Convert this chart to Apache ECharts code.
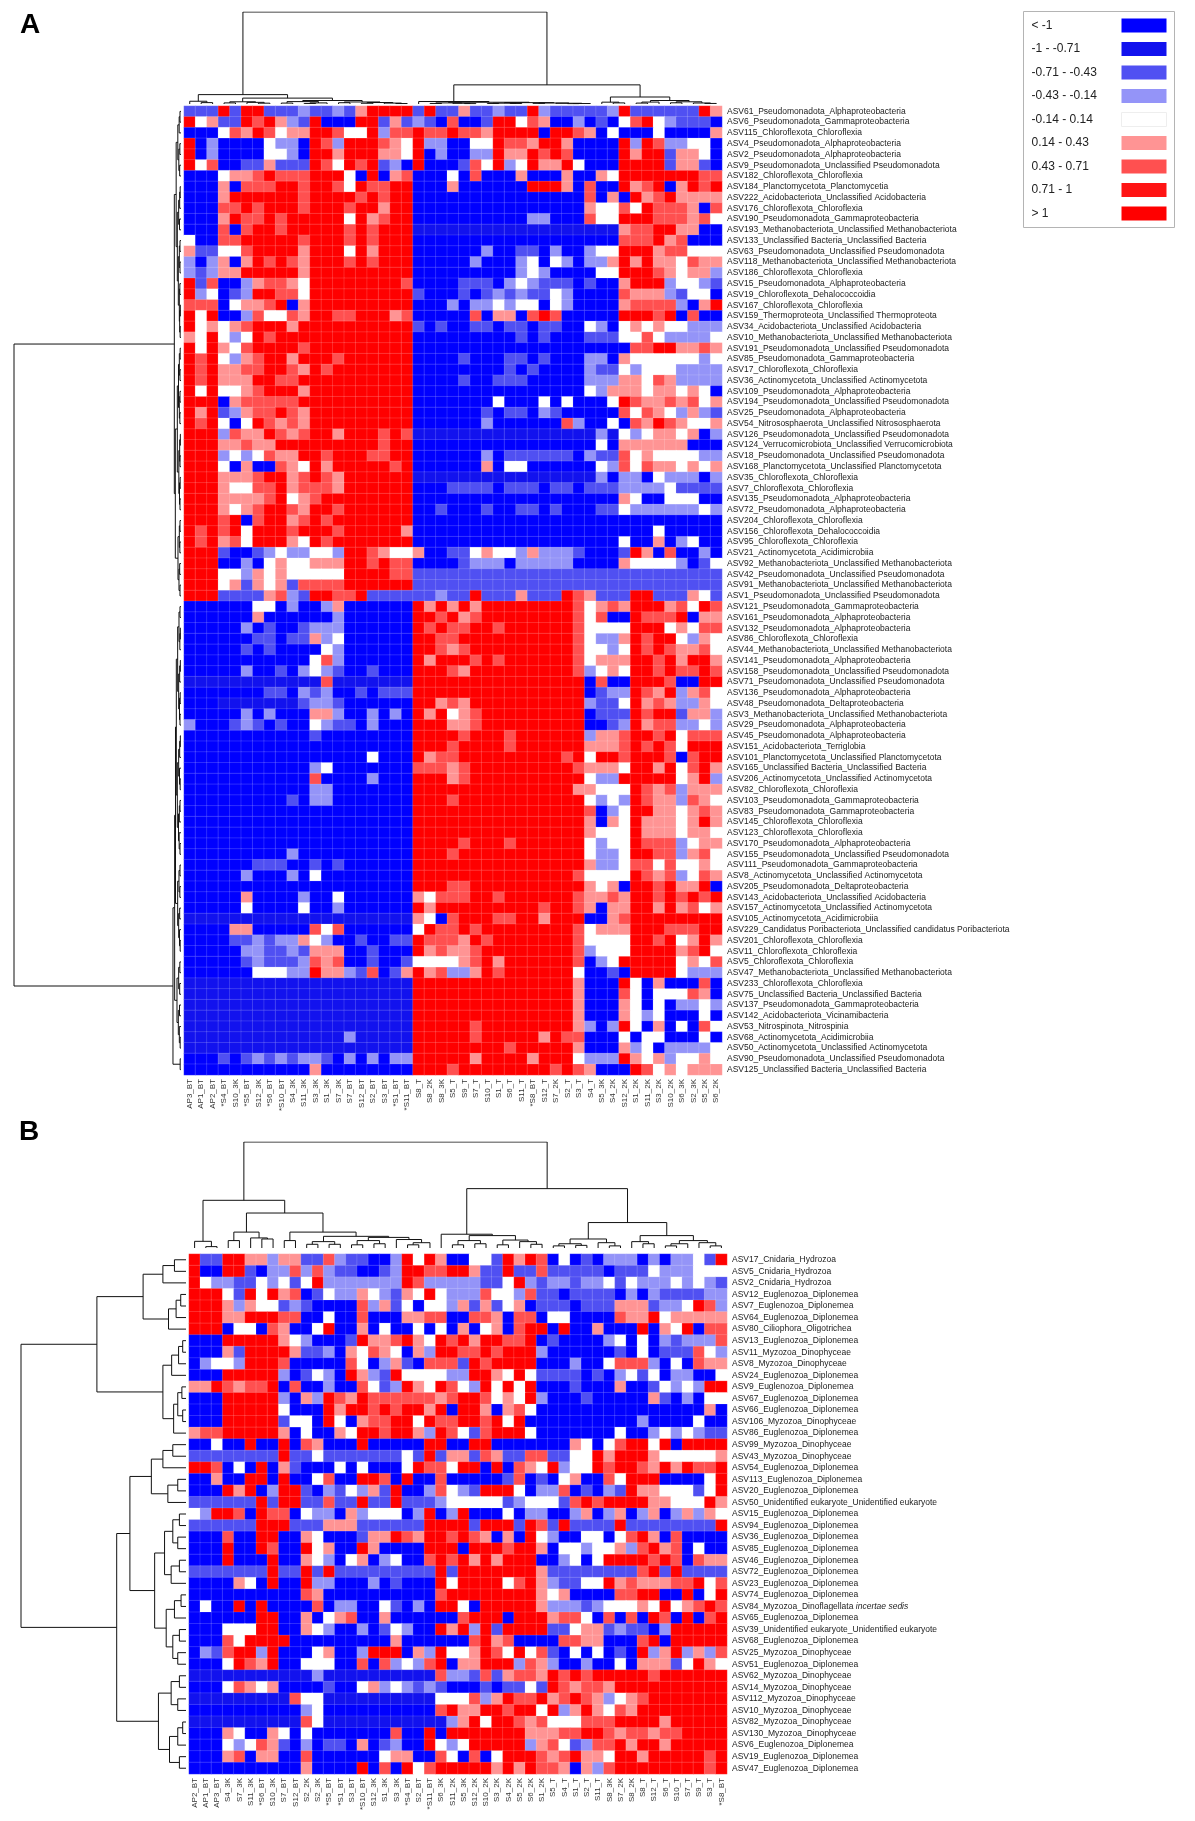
<!DOCTYPE html>
<html>
<head>
<meta charset="utf-8">
<title>Clustered heatmaps</title>
<style>
html, body {margin:0; padding:0; background:#fff}
#chart {width:1195px; height:1821px}
</style>
<script src="https://cdn.jsdelivr.net/npm/echarts/dist/echarts.min.js"></script>
</head>
<body>
<div id="chart"></div>
<script>
// colour classes, one letter per cell
const codeValues = {B: -1.3, D: -0.85, b: -0.57, l: -0.28, w: 0, p: 0.28, r: 0.57, R: 1.3};

const legendLabels = ['< -1', '-1 - -0.71', '-0.71 - -0.43', '-0.43 - -0.14', '-0.14 - 0.14',
  '0.14 - 0.43', '0.43 - 0.71', '0.71 - 1', '> 1'];
const legendColors = ['#0000ff', '#1212ee', '#5050f2', '#9494f8', '#ffffff',
  '#ff9494', '#ff5050', '#ff1414', '#ff0000'];
const legendBreaks = [-1, -0.71, -0.43, -0.14, 0.14, 0.43, 0.71, 1];

// ---------- panel A ----------
const colsA = ['AP3_BT','AP1_BT','AP2_BT','*S4_BT','S10_3K','*S5_BT','S12_3K','*S6_BT','*S10_BT','S4_3K',
  'S11_3K','S3_3K','S1_3K','S7_3K','S7_BT','S12_BT','S2_BT','S3_BT','*S1_BT','*S11_BT',
  'S8_T','S8_2K','S8_3K','S5_T','S9_T','S7_T','S10_T','S1_T','S6_T','S11_T',
  '*S8_BT','S12_T','S7_2K','S2_T','S3_T','S4_T','S5_3K','S4_2K','S12_2K','S1_2K',
  'S11_2K','S3_2K','S10_2K','S6_3K','S2_3K','S5_2K','S6_2K'];

const rowsA = [
  'ASV61_Pseudomonadota_Alphaproteobacteria','ASV6_Pseudomonadota_Gammaproteobacteria','ASV115_Chloroflexota_Chloroflexia',
  'ASV4_Pseudomonadota_Alphaproteobacteria','ASV2_Pseudomonadota_Alphaproteobacteria','ASV9_Pseudomonadota_Unclassified Pseudomonadota',
  'ASV182_Chloroflexota_Chloroflexia','ASV184_Planctomycetota_Planctomycetia','ASV222_Acidobacteriota_Unclassified Acidobacteria',
  'ASV176_Chloroflexota_Chloroflexia','ASV190_Pseudomonadota_Gammaproteobacteria','ASV193_Methanobacteriota_Unclassified Methanobacteriota',
  'ASV133_Unclassified Bacteria_Unclassified Bacteria','ASV63_Pseudomonadota_Unclassified Pseudomonadota','ASV118_Methanobacteriota_Unclassified Methanobacteriota',
  'ASV186_Chloroflexota_Chloroflexia','ASV15_Pseudomonadota_Alphaproteobacteria','ASV19_Chloroflexota_Dehalococcoidia',
  'ASV167_Chloroflexota_Chloroflexia','ASV159_Thermoproteota_Unclassified Thermoproteota','ASV34_Acidobacteriota_Unclassified Acidobacteria',
  'ASV10_Methanobacteriota_Unclassified Methanobacteriota','ASV191_Pseudomonadota_Unclassified Pseudomonadota','ASV85_Pseudomonadota_Gammaproteobacteria',
  'ASV17_Chloroflexota_Chloroflexia','ASV36_Actinomycetota_Unclassified Actinomycetota','ASV109_Pseudomonadota_Alphaproteobacteria',
  'ASV194_Pseudomonadota_Unclassified Pseudomonadota','ASV25_Pseudomonadota_Alphaproteobacteria','ASV54_Nitrososphaerota_Unclassified Nitrososphaerota',
  'ASV126_Pseudomonadota_Unclassified Pseudomonadota','ASV124_Verrucomicrobiota_Unclassified Verrucomicrobiota','ASV18_Pseudomonadota_Unclassified Pseudomonadota',
  'ASV168_Planctomycetota_Unclassified Planctomycetota','ASV35_Chloroflexota_Chloroflexia','ASV7_Chloroflexota_Chloroflexia',
  'ASV135_Pseudomonadota_Alphaproteobacteria','ASV72_Pseudomonadota_Alphaproteobacteria','ASV204_Chloroflexota_Chloroflexia',
  'ASV156_Chloroflexota_Dehalococcoidia','ASV95_Chloroflexota_Chloroflexia','ASV21_Actinomycetota_Acidimicrobiia',
  'ASV92_Methanobacteriota_Unclassified Methanobacteriota','ASV42_Pseudomonadota_Unclassified Pseudomonadota','ASV91_Methanobacteriota_Unclassified Methanobacteriota',
  'ASV1_Pseudomonadota_Unclassified Pseudomonadota','ASV121_Pseudomonadota_Gammaproteobacteria','ASV161_Pseudomonadota_Alphaproteobacteria',
  'ASV132_Pseudomonadota_Alphaproteobacteria','ASV86_Chloroflexota_Chloroflexia','ASV44_Methanobacteriota_Unclassified Methanobacteriota',
  'ASV141_Pseudomonadota_Alphaproteobacteria','ASV158_Pseudomonadota_Unclassified Pseudomonadota','ASV71_Pseudomonadota_Unclassified Pseudomonadota',
  'ASV136_Pseudomonadota_Alphaproteobacteria','ASV48_Pseudomonadota_Deltaproteobacteria','ASV3_Methanobacteriota_Unclassified Methanobacteriota',
  'ASV29_Pseudomonadota_Alphaproteobacteria','ASV45_Pseudomonadota_Alphaproteobacteria','ASV151_Acidobacteriota_Terriglobia',
  'ASV101_Planctomycetota_Unclassified Planctomycetota','ASV165_Unclassified Bacteria_Unclassified Bacteria','ASV206_Actinomycetota_Unclassified Actinomycetota',
  'ASV82_Chloroflexota_Chloroflexia','ASV103_Pseudomonadota_Gammaproteobacteria','ASV83_Pseudomonadota_Gammaproteobacteria',
  'ASV145_Chloroflexota_Chloroflexia','ASV123_Chloroflexota_Chloroflexia','ASV170_Pseudomonadota_Alphaproteobacteria',
  'ASV155_Pseudomonadota_Unclassified Pseudomonadota','ASV111_Pseudomonadota_Gammaproteobacteria','ASV8_Actinomycetota_Unclassified Actinomycetota',
  'ASV205_Pseudomonadota_Deltaproteobacteria','ASV143_Acidobacteriota_Unclassified Acidobacteria','ASV157_Actinomycetota_Unclassified Actinomycetota',
  'ASV105_Actinomycetota_Acidimicrobiia','ASV229_Candidatus Poribacteriota_Unclassified candidatus Poribacteriota','ASV201_Chloroflexota_Chloroflexia',
  'ASV11_Chloroflexota_Chloroflexia','ASV5_Chloroflexota_Chloroflexia','ASV47_Methanobacteriota_Unclassified Methanobacteriota',
  'ASV233_Chloroflexota_Chloroflexia','ASV75_Unclassified Bacteria_Unclassified Bacteria','ASV137_Pseudomonadota_Gammaproteobacteria',
  'ASV142_Acidobacteriota_Vicinamibacteria','ASV53_Nitrospinota_Nitrospinia','ASV68_Actinomycetota_Acidimicrobiia',
  'ASV50_Actinomycetota_Unclassified Actinomycetota','ASV90_Pseudomonadota_Unclassified Pseudomonadota','ASV125_Unclassified Bacteria_Unclassified Bacteria'];

const cellsA = [
  'bbbRbRRbbblbblbpRRRRbRbbpbblbbRlbbbbblRbbbbbbRp',
  'RwpbbRrRplbRBBBRRbpblbBrBBbRRwrpBBlBbBwrRwlbbbB',
  'BBBwrpRrwppRRrwwRlrrRrrRrrpRRRRBRRrpBwBBBwBBBBp',
  'RBlBBBBwllBRrlRRRrpwRllBBwwRrrpRRpBBBBRlRrllwwB',
  'RBlBBBBwwlBRRpRRRppwRBlBBllRppRrRrBBBBRpRRbppwB',
  'RwrBBbbpbbbRrwRrRblBRBBBbrwRlwRppRwBBBRRRRbppbB',
  'BBBwpprRrrrRRRwBRBprBBBwBrBBBpBBBpBBpwRRRRRRRrr',
  'BBBpBrrrRRrRRrwRrrRRBBBpBBBBBBRRRpBrBBRprRBpRrR',
  'BBBpRRRRRRrRRRRrRrRRBBBBBBBBBBBBBBBrBpBRprRpppp',
  'BBBrrRrRRRrRRRrRRpRRBBBBBBBBBBBBBBBpwwrwRrrrpBr',
  'BBBpRrrRrRRRRRwRprRRBBBBBBBBBBllBBBrwwRRRrrrprw',
  'BBBrBrRRrRRRRRrRrRRRDDDDDDDDDDDDDDDDDDprrRRppBB',
  'wBBrrRRRRRrRRRrRrRRRBBBBBBBBBBBBBBBBBBrrrRprBBB',
  'pbbwwrRRRRpRRRwRpRRRBBBBBBlBBbbBlBBlwwRRRprrwww',
  'lBlpBpRrRrpRRRrRrRRRBBBBBlBBBlwBwlBllpRpRppwrpp',
  'lblppRRRRRpRRRRRRRRRBBBBBBBBBlwlBBBBwwRRRrpwppl',
  'RbrBBlprrpwRRRRRRRRrBBBBbbbBlwlbbbBbBBpRRRlwwlb',
  'RlwBblRRrrwRRRRRRRRRbBBBbBblblbbwlBBBBrppplbwwB',
  'rrrBwpprRBpRRRRRRRRRBBBlBllwlwwBwlBBBBprrrrlBpR',
  'RwRBBlrwwrpRRrrRRRprBBBBBrBppBrRrBBBBBRRRrRBrBB',
  'RwpwprRRRpRRRRRRRRRRbBbBBbbBbbBbbBBwlBwpwpwwlll',
  'pwRwlwRrRRRRRRRRRRRRBBBBBBBBBbBbBBBbbbwwrwllllw',
  'RwRpwrRRRRrRRRRRRRRRBBBBBBBBBBBBBBBBBBBrrRRpprp',
  'RrRwlprRRpRRRrRRRRRRBBBBbBBBbbBbBBBllBpwwwwwwlw',
  'RrRpprrRRrpRrRRRRRRRBBBBBBBBbBbBBBBlbbwlwwwllll',
  'RrRpppRRrrRRRRRRRRRRBBBBbBBbbbBBBBBlllppwrpllll',
  'RwRwwprRRRpRRRRRRRRRBBBBBBBBBBBBBBBwlpppwppwpwB',
  'RRRBprrrrrRRRRRRRRRRBBBBBBBwBBBwBwBBBwRrpprprwp',
  'RpRblprrRrpRRRRRRRRRBBBBBBbBbbBlbBBBBBrwrpwlplb',
  'RrRwBwRrprpRRRRRRRRRBBBBBBlBBBBBBrlBBwBrpRrpwwp',
  'RRRlrppRrprRRpRRRrRrDDDDDDDDDDDDDDDDlDwlwppwpBl',
  'RRRpprppRRRRRRRRRrRRBBBBBBBBBBBBBBBBwBppppppBBB',
  'RRRlwlwrppRRrRRRrrRRBBBBBBlBbbbbbbBlbbrwpwwwwll',
  'RRRwBpBBrpwRpRRRRRrRBBBBBBpBwwBBBBBBwlrwrppwpwp',
  'RRRppprRRprRrpRRRRRRDDDDDDDDDDDDDDDDlBllBwlllBl',
  'RRRpwwrrRprrrpRRRRRRBBBbbbbBbbbBbbBbbbllllwbbbbl',
  'RRRpppprRwprRRRRRRRRBBBBBBBBBBBBBBBBBBpwBBwwwBB',
  'RRRpwprRRrpRRrRRRRRRBBbBBBbBBbbBbBBBbbwllllllwl',
  'RRRrRBrRRprRrRRRRRRRBBBBBBBBBBBBBBBBBBBBBBBBBBB',
  'RrRrRwRRRrRRRrRRRRRpBBBBBBBBBBBBBBBBBBBBBwBBBBB',
  'RrRprwRRRpwRrRRRRRRRBBBBBBBBBBBBBBBBBBwBBpBlwBB',
  'RRRbBBblwllwwlRRrpwwpBBbbwpwwlplllbBBBbRpBrBBlB',
  'RRRBBlBwpwwpppRRrRrrBBBBblllBlllllBBBBpwwwwlBbw',
  'RRRwwlpwpwwwwwRRRRrrbbbbbbbbbbbbbbbbbbbbbbbbbbb',
  'RRRwpbpwpbrrrrRRRRRRbbbbbbbbbbbbbbbbbbbbbbbbbbb',
  'RRRbbbbprlbRRrrRbbbbbblbbRbbbpbbbRrpbbbRRbbbpwb',
  'BBBBBBwwBlBBlpBBBBBBRpRpRpRRRRRRRRrwprpRRRprwRr',
  'BBBBBBpBBBBBBlBBBBBBRRrRprRRRRRRRRrwrBBRrrrRBpp',
  'BBBBBlBbBBblllBBBBBBRrRrrRRrRRRRRRrwwwwRRRwpwrr',
  'BBBBBBbbBbbplwBBBBBBRRrrRRRRRRRRRRrwllpRrRRwlpw',
  'BBBBBbBbBBBBwlBBBBBBRRrprRRRRRRRRRrwwlwRrRrpprw',
  'BBBBBBBBBBBwrlBBBBBBRpRRRrRrRRRRRRrwpppRRrRpRRp',
  'BBBBBlBBbBlwlbBBbBBBRRRrpRRRRRRRRRrlwpwRRrRrrRr',
  'DDDDDDDDDDDDrDDDDDDDRRRRRRRRRRRRRRRBrBBRRRrBBRR',
  'BBBBBBBbbBlblBBbBbbbRRRRRRRRRRRRRRRBbllRrpRlprw',
  'BBBDDDDDDDbllbBBBBBBRRprpRRRRRRRRRRlbbwRprpllpw',
  'BBBBBlBlBBBpplBBlBlBRpRwprRRRRRRRRRBbbbRrRRbppl',
  'lBBBblbBbBBwlbbBlBBBRRRpprRRRRRRRRRBBblRprrllwl',
  'BBBBBBBBBBBbBBBBBBBBRRRRrRRRrRRRRRRlpprRRrRwrrr',
  'BBBBBBBBBBBBBBBBBBBBRRRrRRRRrRRRRRRppprRrRrwRRR',
  'BBBBBBBBBBBBBBBBwBBBRprrRRRRRRRRRrRwRRrRRRrBrRR',
  'BBBBBBBBBBBlwBBBBBBBrrrprRRRRRRRRRrpppwRRpRwrRp',
  'BBBBBBBBBBBrBBBBlBBBRRRprRRRRRRRRRRwllRRRRRwpRl',
  'BBBBBBBBBBBllBBBBBBBRRRRRRRRRRRRRRppwwwRrprlppp',
  'BBBBBBBBBbBllBBBBBBBRRRrRRRRRRRRRRRwlwlRrpplrpw',
  'BBBBBBBBBBBBBBBBBBBBRRRRRRRRRRRRRRRrBlwRRppwprp',
  'BBBBBBBBBBBBBBBBBBBBRRRRRRRRRRRRRRRpBpwRpppwpRp',
  'BBBBBBBBBBBBBBBBBBBBRRRRRRRRRRRRRRRpwwwRpppwppw',
  'BBBBBBBBBBBBBBBBBBBBRRRRrRRRrRRRRRRwlwwRrrrlwpp',
  'BBBBBBBBBlBBBBBBBBBBRRRrRRRRRRRRRRRwllwRRrrlprw',
  'BBBBBBbbbBBbBbBBBBBBRRRRRRRRRRRRRRRpllwrrwrwwpw',
  'BBBBBlBBBlBwBBBBBBBBRRRRRRRRRRRRRRrwwwwRrprlwrp',
  'BBBBBBBBBBBBBBBBBBBBRRRrrRRRRRRRRRRpwpBRRrRppRB',
  'BBBBBpBBBBlBBwBBBBBBpwrrrRRrRRRRRRrpprpRRrRrRrR',
  'BBBBBwBBBBwBBlBBBBBBRpRRRRRRRRRrRRrpBppRRpRprwp',
  'DDDDDDDDDDDDDDDDDDDDpwBrRRRrrRRpRRRBBprRRRRRRRR',
  'BBBBppBBBBBrwrBBBBBBwRrrRrRRRRRRRRrwpppRRRrrrRR',
  'BBBBbblbllpwlBBbBBbbRrrrpRrRRRRRRRrwwwwRRrRwpRp',
  'BBBBBllbblbpppBBbBBBRprpprRRRRRRRRrlwwwRRRRprRw',
  'BBBBBblbbblrprBBbBBbwwwwprRpRRRRRRrBlwRRRRRwpwr',
  'BBBBBBwwwllRpplbrBbpRprllpRrRRRRRRwBBbBRRRRwlll',
  'DDDDDDDDDDDDDDDDDDDDRRRRRRRRRRRRRRpBBBRwBpBBBrB',
  'DDDDDDDDDDDDDDDDDDDDRRRRRRRRRRRRRRpBBBrwBwwwrpB',
  'DDDDDDDDDDDDDDDDDDDDRRRRRRRRRRRRRRpBBBpwBwBllwl',
  'DDDDDDDDDDDDDDDDDDDDRRRRRRRRRRRRRRpBBBpwlwBBBwB',
  'DDDDDDDDDDDDDDDDDDDDRRRRRrRRRRRRRRplBlRwBpBwBrw',
  'DDDDDDDDDDDDDDlDDDDDRRRRRrRRRRRpRrrBBBwBwwBBBwB',
  'DDDDDDDDDDDDDDDDDDDDRRRRRRRRrRRRRRpBBBplwBllllw',
  'BBBbBblblbllbBlBlBllRRRRRpRRRRpRRRwlllRpwplwwpw',
  'BBBBBBBBBBBpBBBBBBBBRRRrRRRRRRRRrRrpBBBRrwpwppp'];

// dendrograms: [height, left, right], leaves are column / row indices
const colTreeA = [100,
  [10.2, [3, 0, [1.5, 1, 2]],
    [6.4, [2.4, [1.2, 3, 4], [1.8, 5, [0.9, 6, 7]]],
      [3.8, [2.6, [1, 8, 9], [1.2, [0.6, 10, 11], 12]],
        [2.2, [1.4, 13, 14], [1.6, [0.8, 15, 16], [1.0, 17, [0.5, 18, 19]]]]]]],
  [20.8,
    [2.7, 20, [1.9, [1.2, [0.6, 21, 22], [0.8, 23, [0.4, 24, 25]]],
      [1.5, [0.9, [0.5, 26, 27], [0.6, 28, 29]], [1.1, [0.7, 30, 31], [0.8, 32, [0.5, [0.3, 33, 34], 35]]]]]],
    [7.6, [2.0, 36, [1.2, 37, 38]],
      [3.8, [2.1, [1, 39, 40], 41], [2.4, [1.3, 42, 43], [1.1, 44, [0.6, 45, 46]]]]]]];

const rowTreeA = [100,
  [4.0,
    [2.9, [1.9, [1.1, [0.6, 0, 1], 2], [1.3, [0.7, 3, 4], [0.8, 5, 6]]],
      [2.2, [1.4, [0.8, [0.5, 7, 8], 9], [0.9, 10, 11]],
        [1.6, [1.0, [0.6, 12, 13], [0.6, 14, 15]], [1.0, [0.7, 16, 17], [0.8, [0.4, 18, 19], [0.5, 20, 21]]]]]],
    [3.4,
      [2.2, [1.5, [1.0, [0.5, 22, 23], [0.6, 24, 25]], [1.0, [0.6, 26, 27], [0.7, 28, 29]]],
        [1.3, [0.8, [0.4, 30, 31], [0.6, 32, 33]], [0.9, [0.5, 34, 35], [0.6, 36, 37]]]],
      [1.8, [1.0, [0.6, 38, 39], [0.7, 40, 41]], [1.2, [0.8, 42, 43], [0.6, 44, 45]]]]],
  [4.8,
    [3.8,
      [3.3,
        [2.8,
          [2.0, [1.2, [0.6, 46, 47], [0.7, [0.4, 48, 49], 50]], [1.4, [0.8, [0.4, 51, 52], 53], [0.9, [0.5, 54, 55], [0.6, 56, 57]]]],
          [2.2, [1.4, [0.8, [0.4, 58, 59], 60], [0.9, 61, [0.5, 62, 63]]], [1.5, [1.0, [0.6, 64, 65], 66], [1.1, 67, [0.6, 68, 69]]]]],
        [2.0, [1.2, [0.6, 70, 71], [0.7, 72, 73]], [1.4, [0.8, 74, 75], [0.9, 76, [0.5, 77, 78]]]]],
      [2.4, [1.4, [0.7, 79, 80], [0.8, 81, 82]], [1.6, [0.9, 83, 84], [1.0, 85, [0.5, 86, 87]]]]],
    [0.5, 88, 89]]];

// ---------- panel B ----------
const colsB = ['AP2_BT','AP1_BT','AP3_BT','S4_3K','S7_3K','S11_3K','*S6_BT','S10_3K','S7_BT','S12_BT',
  'S2_2K','S2_3K','*S5_BT','*S1_BT','S3_BT','*S10_BT','S12_3K','S1_3K','S3_3K','*S4_BT',
  'S2_BT','*S11_BT','S6_3K','S11_2K','S5_3K','S12_2K','S10_2K','S3_2K','S4_2K','S5_2K',
  'S6_2K','S1_2K','S5_T','S4_T','S1_T','S2_T','S11_T','S8_3K','S7_2K','S8_2K',
  'S8_T','S12_T','S6_T','S10_T','S7_T','S9_T','S3_T','*S8_BT'];

const rowsB = [
  'ASV17_Cnidaria_Hydrozoa','ASV5_Cnidaria_Hydrozoa','ASV2_Cnidaria_Hydrozoa','ASV12_Euglenozoa_Diplonemea',
  'ASV7_Euglenozoa_Diplonemea','ASV64_Euglenozoa_Diplonemea','ASV80_Ciliophora_Oligotrichea','ASV13_Euglenozoa_Diplonemea',
  'ASV11_Myzozoa_Dinophyceae','ASV8_Myzozoa_Dinophyceae','ASV24_Euglenozoa_Diplonemea','ASV9_Euglenozoa_Diplonemea',
  'ASV67_Euglenozoa_Diplonemea','ASV66_Euglenozoa_Diplonemea','ASV106_Myzozoa_Dinophyceae','ASV86_Euglenozoa_Diplonemea',
  'ASV99_Myzozoa_Dinophyceae','ASV43_Myzozoa_Dinophyceae','ASV54_Euglenozoa_Diplonemea','ASV113_Euglenozoa_Diplonemea',
  'ASV20_Euglenozoa_Diplonemea','ASV50_Unidentified eukaryote_Unidentified eukaryote','ASV15_Euglenozoa_Diplonemea','ASV94_Euglenozoa_Diplonemea',
  'ASV36_Euglenozoa_Diplonemea','ASV85_Euglenozoa_Diplonemea','ASV46_Euglenozoa_Diplonemea','ASV72_Euglenozoa_Diplonemea',
  'ASV23_Euglenozoa_Diplonemea','ASV74_Euglenozoa_Diplonemea','ASV84_Myzozoa_Dinoflagellata incertae sedis','ASV65_Euglenozoa_Diplonemea',
  'ASV39_Unidentified eukaryote_Unidentified eukaryote','ASV68_Euglenozoa_Diplonemea','ASV25_Myzozoa_Dinophyceae','ASV51_Euglenozoa_Diplonemea',
  'ASV62_Myzozoa_Dinophyceae','ASV14_Myzozoa_Dinophyceae','ASV112_Myzozoa_Dinophyceae','ASV10_Myzozoa_Dinophyceae',
  'ASV82_Myzozoa_Dinophyceae','ASV130_Myzozoa_Dinophyceae','ASV6_Euglenozoa_Diplonemea','ASV19_Euglenozoa_Diplonemea',
  'ASV47_Euglenozoa_Diplonemea'];
const italicPart = 'incertae sedis';

const cellsB = [
  'RbbRRpplppbbrlbbBBlRwRpBBwwbRpRrBwBbBlllBlBllwbR',
  'RBBRRbBllrlrlbbBBblRRrrRRpbbRbbrbbbbbBbbbwlllwww',
  'RwllbbwlwbwRlllllllRrlllllbbwRlbllbllwbwlllwlwlb',
  'RRRwbRwRprBbwllpwlbpwRwlllrwwlrbbBbbbbBlBlbbbbll',
  'RRRplpwwblbBBBBrlpbwBwwlpbpbwpBbbbBbbbpppbllwRrl',
  'RRRppRRRrrBBwBBrBBBpprrBBrrpBrrBwwBBBBrppRwppppp',
  'RRRBwwBrpBBwRBBpBwBBwBwBpBwpBrRRBRBBpBBBRBpwRBrr',
  'BBBRRRRRpwlBBBbRpprRpwRrRpRRrrRBbBBBBlwBwBlblllr',
  'BBBpbRRRRpbblBpwrpwBplRRrrRrRRRlBBBBBBbBwBbbbrwl',
  'BlwwlRRRrBBBBBrwBlpbBrrrbRrRRRRBBBlBBwrrrlBwBrpp',
  'BBBRRRRRlBbwlBRplbRwwwwllRRpwRwbbbbBbBlwbwBllBBw',
  'ppRrprrRBrBBlBBrwblRpwRrwlRwRwRBBBbBBBpBBbwlwlRR',
  'BBBRRRRRlBplRrpRrrrrrrprRRrwpwRlBBBbBBBBBpbBlBww',
  'BBBRRRRRwBBBRpRRrRrRRpRBRRpBprwBBBBBBBBBBBBBBBpB',
  'BBBRRRRRbwwBRwBprrRRwRrrRRrRwRBBBBBBBBBBlBBBBwBB',
  'prrRRRRRpBwBBpwRRrRRplRrwbrRRRwBBBBBBBwBBlwlwlbb',
  'BBwBBRBBRBrpBBBRBBBBBRRBBRRBBBBBBBpwBwrRRwRBRRRR',
  'bbbbbbbbRbbwbbbbbbbwbRbppbrpbbrrbbwwRpRRRpwwwwwp',
  'RRrBwBRBpbBBBwBwBBBwRrrwRRBRBrpwRlwwRrRRrpRpRrrR',
  'BBpBBRRBRBBwrBBRRrBRBBrBBBBBbrBbBwpBBrwRRRBBBBwR',
  'BBBRpRBlRRbBlbwlpbRBBlrwlbRRRwBllrBbBlbRppwwwbwR',
  'bbbbbbRbRRbbrbbRbbRbbblwwwwwblwwwbrRrRRRRppwwwRp',
  'wlRRrBRrrBwllBplwwwBlRBlRBBBwBllBBlpBlpBlpBlplpw',
  'bbbbbbRRRbbbpppbbbbbbRRRRbRRRbRrbRbbbbRbbbbbbbbR',
  'BBBrBBRRBBpwBBBbppRrpRRrRrpBpBRwlBBwwBwrRpBrBBBB',
  'BBBRBBRrBBRwpBBRpBBBBRRRBRRRrRRpBwwlwwplrRprBwBB',
  'BBBRBBBRBBpwlBwpBlwBBrRrRpRpRRRBBlwBwRRRRrRrBrpp',
  'bbbbbbbRbbRbRbbbbbbbbbRbRRRRRRRpbbbbbbbbrRbRbbbb',
  'BBBBpwBRBBRllBBBlBbBBBRwRRRRwrRplbbwwRprppprrRwr',
  'BBBBBBBBBBrpBBBBBBBBBBrRRRRRRRRpwpBBBBrrRRBBRBwR',
  'BwBBRBRBBBBrBllBBwbBlBRRwBRRRRRplllblwwwpwRwprRr',
  'BBBBBBRRBBpBwprBBpBBBBBBrRRRBRRRprrwBrBrBRrBRBrR',
  'BBBwwwRRBBpwlBBlBbwlBBRpRlRbRRRRbbwppblbbBlRRRRR',
  'BBBrwRRRRBBBBBBBBBpBBBBBBrRprBBBBrrppBBBrRBRRRRR',
  'BlbrRRlRBBBwpBBlRRRBplRwwpRrwRwrbBwBwBbBRlpRlplr',
  'BBBwRrpRBBwwwBBrBrlwlrRBppRRRlrplBBlBBwBpppbwRpw',
  'DDDDDDDDDDDlDDDDDDDDDDrllbrbprrpRrRrRRRRRrRRRRRR',
  'BBBwrpwpBBBBbBBwplwlblbBBBbBbbwbRrprrpRRRRRRRRRR',
  'DDDDDDDDDrwwDDDDDDDDDDwwwrlpRrrRprRrplwprRRRRRRR',
  'BBBBBBBBBBlwBBBBBBBBBBrRppRRrRRwRlpRpwrpRRRRRRRR',
  'DDDDDDDDDDrwDDDDDDDDDDDlpRwRRrprwwwrrrRRRRpRRRRR',
  'BBBpwBBpwBwBBBBBBBrBBRBRRRRRRRppprrRRrprrprrRRRR',
  'BBBwlwrpbBlBbbBpBblBBRwlwRRRRRlprwblrrRpRRpRRRRR',
  'BBBprBppBBrBBBBBBwppBBrwBrBwRRRrprRppwRRpRRRRRrR',
  'BBBBBBBBBBpBBBBRBrBRwrRRRRRpRpRrrpBplrRRRRRRRRrR'];

const colTreeB = [100,
  [45, [6.3, 0, [1.3, 1, 2]],
    [33, [15, [7, 3, 4], [9.5, 5, [8.5, 6, 7]]],
      [15, [7, 8, 9],
        [11, [6, [3.5, 10, 11], [3.5, 12, 13]],
          [10, [7, [3, 14, 15], [4, 16, 17]], [8, 18, [5, [3, 19, 20], 21]]]]]]],
  [56,
    [13, 22, [11.7, [7, [3, 23, 24], [4, 25, 26]], [7.5, [3, 27, 28], [6, 29, [3.5, 30, 31]]]]],
    [24, [8.5, [4, [2, 32, 33], [2.5, 34, 35]], [5, 36, [2, 37, 38]]],
      [11.7, [6, 39, [4, 40, 41]], [7, [4, [2, 42, 43], 44], [5, 45, [2, 46, 47]]]]]]];

const rowTreeB = [100,
  [54,
    [26, [14, [7, 0, 1], 2], [10.6, [6, [3.2, 3, 4], 5], 6]],
    [14, [8.7, [4.5, [2, 7, 8], 9], 10], [7.5, [5, [2.5, 11, 12], [2, 13, 14]], 15]]],
  [42,
    [34,
      [21, [14, [8, 16, 17], 18], [11, [5, 19, 20], 21]],
      [19, [13, [8, [4, 22, 23], [5, 24, 25]], [9, [4, 26, 27], 28]],
        [12, [7, [3, 29, 30], 31], [8, [4, 32, 33], [5, 34, 35]]]]],
    [16.7, [9, [4, 36, 37], [5, 38, 39]], [10, [5, [2, 40, 41], 42], [4, 43, 44]]]]];

// ---------- helpers ----------
function cellData(rows) {
  const out = [];
  rows.forEach((s, y) => {
    for (let x = 0; x < s.length; x++) out.push([x, y, codeValues[s[x]]]);
  });
  return out;
}

// U-shaped links of a tree; flip=true puts height on the x axis
function dendroSegs(tree, flip) {
  const segs = [];
  (function walk(n) {
    if (typeof n === 'number') return [n, 0];
    const a = walk(n[1]), b = walk(n[2]), h = n[0];
    const pts = [[a[0], a[1]], [a[0], h], [b[0], h], [b[0], b[1]]];
    segs.push({coords: flip ? pts.map(p => [p[1], p[0]]) : pts});
    return [(a[0] + b[0]) / 2, h];
  })(tree);
  return segs;
}

const FONT = '"Liberation Sans", Arial, sans-serif';
const pieces = legendColors.map((c, i) => {
  if (i === 0) return {lt: legendBreaks[0], color: c};
  if (i === legendColors.length - 1) return {gte: legendBreaks[i - 1], color: c};
  return {gte: legendBreaks[i - 1], lt: legendBreaks[i], color: c};
});

// legend box drawn as plain graphic
const legendItems = [{
  type: 'rect', shape: {x: 0, y: 0, width: 151, height: 216},
  style: {fill: '#fff', stroke: '#b4b4b4', lineWidth: 1}
}];
legendLabels.forEach((t, i) => {
  legendItems.push({type: 'text', x: 8, y: 14 + i * 23.5,
    style: {text: t, fontSize: 12, fontFamily: FONT, fill: '#222', verticalAlign: 'middle'}});
  legendItems.push({type: 'rect', shape: {x: 98, y: 7 + i * 23.5, width: 45, height: 14},
    style: {fill: legendColors[i], stroke: i === 4 ? '#eee' : null, lineWidth: 1}});
});

const grids = [
  {left: 184, top: 106, width: 538, height: 969},  // heatmap A
  {left: 184, top: 12, width: 538, height: 92},    // column tree A
  {left: 14, top: 106, width: 167, height: 969},   // row tree A
  {left: 189, top: 1254, width: 538, height: 520}, // heatmap B
  {left: 189, top: 1142, width: 538, height: 106}, // column tree B
  {left: 21, top: 1254, width: 165, height: 520}   // row tree B
];

function heatX(g, cols) {
  return {type: 'category', gridIndex: g, data: cols, position: 'bottom',
    axisLine: {show: false}, axisTick: {show: false}, splitLine: {show: false},
    axisLabel: {interval: 0, rotate: 90, fontSize: 8, margin: 4, color: '#333', fontFamily: FONT}};
}
function heatY(g, rows, fmt) {
  return {type: 'category', gridIndex: g, data: rows, inverse: true, position: 'right',
    axisLine: {show: false}, axisTick: {show: false}, splitLine: {show: false},
    axisLabel: {interval: 0, fontSize: 8.5, margin: 5, color: '#222', fontFamily: FONT,
      formatter: fmt, rich: {i: {fontStyle: 'italic', fontSize: 8.5, fontFamily: FONT, color: '#222'}}}};
}
function hidden(g, min, max, inverse) {
  return {type: 'value', gridIndex: g, min: min, max: max, inverse: !!inverse, show: false};
}

const nA = colsA.length, mA = rowsA.length, nB = colsB.length, mB = rowsB.length;

const option = {
  animation: false,
  title: [
    {text: 'A', left: 15, top: 6, textStyle: {fontSize: 28, fontWeight: 'bold', fontFamily: FONT, color: '#000'}},
    {text: 'B', left: 14, top: 1113, textStyle: {fontSize: 28, fontWeight: 'bold', fontFamily: FONT, color: '#000'}}
  ],
  grid: grids,
  xAxis: [
    heatX(0, colsA), hidden(1, -0.5, nA - 0.5), hidden(2, 0, 100, true),
    heatX(3, colsB), hidden(4, -0.5, nB - 0.5), hidden(5, 0, 100, true)
  ],
  yAxis: [
    heatY(0, rowsA), hidden(1, 0, 100), hidden(2, -0.5, mA - 0.5, true),
    heatY(3, rowsB, v => v.indexOf(italicPart) > 0 ? v.replace(italicPart, '{i|' + italicPart + '}') : v),
    hidden(4, 0, 100), hidden(5, -0.5, mB - 0.5, true)
  ],
  visualMap: {type: 'piecewise', show: false, dimension: 2, seriesIndex: [0, 1], pieces: pieces},
  graphic: [{type: 'group', left: 1023, top: 11, children: legendItems}],
  series: [
    {type: 'heatmap', xAxisIndex: 0, yAxisIndex: 0, data: cellData(cellsA), progressive: 0,
      itemStyle: {borderColor: 'rgba(255,255,255,0.3)', borderWidth: 0.5}, silent: true},
    {type: 'heatmap', xAxisIndex: 3, yAxisIndex: 3, data: cellData(cellsB), progressive: 0,
      itemStyle: {borderColor: 'rgba(255,255,255,0.3)', borderWidth: 0.5}, silent: true},
    {type: 'lines', coordinateSystem: 'cartesian2d', xAxisIndex: 1, yAxisIndex: 1, polyline: true,
      data: dendroSegs(colTreeA, false), lineStyle: {color: '#111', width: 1, opacity: 1}, silent: true},
    {type: 'lines', coordinateSystem: 'cartesian2d', xAxisIndex: 2, yAxisIndex: 2, polyline: true,
      data: dendroSegs(rowTreeA, true), lineStyle: {color: '#111', width: 1, opacity: 1}, silent: true},
    {type: 'lines', coordinateSystem: 'cartesian2d', xAxisIndex: 4, yAxisIndex: 4, polyline: true,
      data: dendroSegs(colTreeB, false), lineStyle: {color: '#111', width: 1, opacity: 1}, silent: true},
    {type: 'lines', coordinateSystem: 'cartesian2d', xAxisIndex: 5, yAxisIndex: 5, polyline: true,
      data: dendroSegs(rowTreeB, true), lineStyle: {color: '#111', width: 1, opacity: 1}, silent: true}
  ]
};

const chart = echarts.init(document.getElementById('chart'), null, {renderer: 'canvas'});
chart.setOption(option);
</script>
</body>
</html>
